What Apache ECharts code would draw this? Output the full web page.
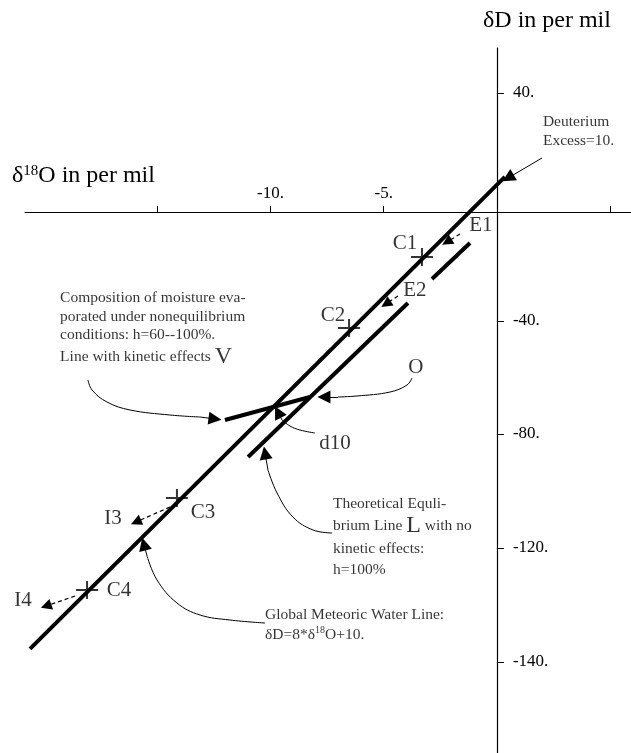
<!DOCTYPE html>
<html><head><meta charset="utf-8">
<script src="https://cdn.jsdelivr.net/npm/echarts@6/dist/echarts.min.js"></script>
<style>html,body{margin:0;padding:0;background:#fff}#c{width:631px;height:753px}</style>
</head><body><div id="c"></div>
<script>
// ---- axis ticks ----
const xTickValues = [-15, -10, -5, 5];
const xLabelValues = [-10, -5];
const yTickValues = [41.8, -38.2, -77.9, -117.9, -157.9];
const yTickLabels = ['40.', '-40.', '-80.', '-120.', '-140.'];

// ---- main lines (δ18O, δD) ----
const gmwlLine = [[-20.62, -153.3], [0.35, 12.3]];
const equilibriumLineA = [[-1.19, -10.88], [-2.87, -23.51]];
const equilibriumLineB = [[-3.93, -31.93], [-10.99, -85.96]];
const kineticLineV = [[-12.01, -72.98], [-8.26, -64.91]];

// ---- crosses on the GMWL ----
const crossPoints = [[-3.31, -15.79], [-6.53, -40.70], [-14.13, -100.35], [-18.10, -132.63]];

// ---- point labels ----
const pointNames = ['C1', 'C2', 'C3', 'C4', 'E1', 'E2', 'I3', 'I4', 'O', 'd10'];
const pointLabelPos = [[-4.06, -10.88], [-7.24, -36.14], [-12.98, -105.26], [-16.69, -132.63],
  [-0.71, -4.56], [-3.62, -27.37], [-16.95, -107.37], [-20.93, -136.14], [-3.58, -54.39], [-7.15, -81.05]];

// ---- dashed arrows (tail, head) ----
const arrowE1 = [[-1.63, -7.72], [-2.21, -10.53]];
const arrowE2 = [[-4.37, -29.47], [-4.90, -32.28]];
const arrowI3 = [[-14.44, -103.51], [-15.94, -108.77]];
const arrowI4 = [[-18.63, -134.74], [-19.91, -138.25]];

// ---- curved pointers (path, then arrowhead segment) ----
const curveComposition = [[-18.06, -58.95], [-17.88, -62.46], [-17.22, -66.67], [-16.20, -69.47], [-14.44, -71.23], [-13.11, -71.93]];
const headComposition = [[-13.11, -71.93], [-12.45, -72.63]];
const curveO = [[-3.75, -58.25], [-3.97, -60.70], [-4.72, -63.16], [-6.18, -64.56], [-7.02, -64.91]];
const headO = [[-7.02, -64.91], [-7.64, -64.91]];
const curveD10 = [[-8.04, -77.54], [-8.70, -76.49], [-9.14, -75.09], [-9.49, -72.98]];
const headD10 = [[-9.49, -72.98], [-9.67, -70.18]];
const curveL = [[-7.28, -112.63], [-8.12, -111.58], [-9.01, -107.02], [-9.71, -98.60], [-10.11, -90.53]];
const headL = [[-10.11, -90.53], [-10.24, -84.56]];
const curveGMWL = [[-10.24, -144.21], [-11.79, -143.16], [-13.11, -141.40], [-14.13, -137.19], [-15.01, -129.12], [-15.45, -120.70]];
const headGMWL = [[-15.45, -120.70], [-15.59, -116.49]];
const pointerExcess = [[1.99, 18.95], [0.49, 11.93]];

// ---- text blocks (anchor = top-left) ----
const noteComposition = ['Composition of moisture eva-', 'porated under nonequilibrium', 'conditions: h=60--100%.', 'Line with kinetic effects {big|V}'];
const noteCompositionPos = [-19.29, -27.0];
const noteTheory = ['Theoretical Equli-', 'brium Line {big|L} with no', 'kinetic effects:', 'h=100%'];
const noteTheoryPos = [-7.24, -98.6];
const noteGMWL = ['Global Meteoric Water Line:', 'δD=8*δ{sup|18}O+10.'];
const noteGMWLPos = [-10.24, -138.0];
const noteExcess = ['Deuterium', 'Excess=10.'];
const noteExcessPos = [2.03, 35.0];

const FONT = 'Liberation Serif';
const X_MIN = -20.84, X_MAX = 5.92, Y_MIN = -189.82, Y_MAX = 57.54;
const GRID = {left: 25, right: 0, top: 48, bottom: 0};
const chart = echarts.init(document.getElementById('c'), null, {renderer: 'canvas'});
const W = chart.getWidth() - GRID.left - GRID.right;
const H = chart.getHeight() - GRID.top - GRID.bottom;
// place the axes through the origin (axis offsets derived from the scales)
const yAxisOffset = -((0 - X_MIN) / (X_MAX - X_MIN) * W);
const xAxisOffset = -((0 - Y_MIN) / (Y_MAX - Y_MIN) * H);

function thick(data, w) {
  return {type: 'line', data: data, symbol: 'none', lineStyle: {color: '#000', width: w}, silent: true, animation: false, z: 3};
}
function curve(data) {
  return {type: 'line', data: data, symbol: 'none', smooth: 0.4, lineStyle: {color: '#000', width: 1}, silent: true, animation: false, z: 2};
}
function heads(list, dashed) {
  return {
    type: 'lines', coordinateSystem: 'cartesian2d', animation: false, silent: true, z: 4,
    symbol: ['none', 'triangle'], symbolSize: dashed ? [7, 11] : [8, 13],
    lineStyle: {color: '#000', width: dashed ? 1.2 : 1, type: dashed ? [4, 3] : 'solid', opacity: 1},
    itemStyle: {color: '#000'},
    data: list.map(c => ({coords: c}))
  };
}
function note(lines, pos, lh, rich) {
  return {
    value: pos,
    label: {
      show: true, position: [0, 0], align: 'left', verticalAlign: 'top',
      formatter: lines.join('\n'), fontFamily: FONT, fontSize: 15.5, color: '#000', lineHeight: lh,
      rich: rich
    }
  };
}

const labelRich = {big: {fontFamily: FONT, fontSize: 24, color: '#000', lineHeight: 24},
  sup: {fontFamily: FONT, fontSize: 10, color: '#000', verticalAlign: 'top', lineHeight: 14}};

chart.setOption({
  animation: false,
  backgroundColor: '#fff',
  title: [
    {text: 'δD in per mil', left: 483, top: 9, padding: 0,
      textStyle: {fontFamily: FONT, fontSize: 24, fontWeight: 'normal', color: '#000'}},
    {text: 'δ{sup|18}O in per mil', left: 12, top: 164, padding: 0,
      textStyle: {fontFamily: FONT, fontSize: 24, fontWeight: 'normal', color: '#000',
        rich: {sup: {fontFamily: FONT, fontSize: 15, color: '#000', verticalAlign: 'top', lineHeight: 16}}}}
  ],
  grid: Object.assign({containLabel: false, outerBoundsMode: 'none'}, GRID),
  xAxis: {
    type: 'value', min: X_MIN, max: X_MAX, position: 'bottom', offset: xAxisOffset,
    axisLine: {onZero: false, lineStyle: {color: '#000', width: 1}},
    axisTick: {show: true, inside: true, length: 6, customValues: xTickValues, lineStyle: {color: '#000'}},
    axisLabel: {inside: true, margin: 10, customValues: xLabelValues, formatter: v => v + '.',
      fontFamily: FONT, fontSize: 17, color: '#000'},
    splitLine: {show: false}
  },
  yAxis: {
    type: 'value', min: Y_MIN, max: Y_MAX, position: 'left', offset: yAxisOffset,
    axisLine: {onZero: false, lineStyle: {color: '#000', width: 1.2}},
    axisTick: {show: true, inside: true, length: 7, customValues: yTickValues, lineStyle: {color: '#000'}},
    axisLabel: {inside: true, margin: 16, customValues: yTickValues,
      formatter: v => { const i = yTickValues.findIndex(t => Math.abs(t - v) < 0.01); return i >= 0 ? yTickLabels[i] : ''; },
      fontFamily: FONT, fontSize: 17, color: '#000'},
    splitLine: {show: false}
  },
  series: [
    thick(gmwlLine, 4),
    thick(equilibriumLineA, 4),
    thick(equilibriumLineB, 4),
    thick(kineticLineV, 4),
    curve(curveComposition),
    curve(curveO),
    curve(curveD10),
    curve(curveL),
    curve(curveGMWL),
    heads([headComposition, headO, headD10, headL, headGMWL, pointerExcess], false),
    heads([arrowE1, arrowE2, arrowI3, arrowI4], true),
    {
      type: 'scatter', data: crossPoints, silent: true, animation: false, z: 5,
      symbol: 'path://M0,8h22v2h-22z M10,0h2v18h-2z', symbolSize: [22, 18],
      itemStyle: {color: '#000'}
    },
    {
      type: 'scatter', silent: true, animation: false, clip: false, symbolSize: 0, z: 6,
      data: pointNames.map((n, i) => ({value: pointLabelPos[i], name: n})),
      label: {show: true, position: [0, 0], align: 'center', verticalAlign: 'middle',
        formatter: p => p.name, fontFamily: FONT, fontSize: 21, color: '#000'}
    },
    {
      type: 'scatter', silent: true, animation: false, clip: false, symbolSize: 0, z: 6,
      data: [
        note(noteComposition, noteCompositionPos, 18.5, labelRich),
        note(noteTheory, noteTheoryPos, 21, labelRich),
        note(noteGMWL, noteGMWLPos, 20, labelRich),
        note(noteExcess, noteExcessPos, 19, labelRich)
      ]
    }
  ]
});
</script>
</body></html>
